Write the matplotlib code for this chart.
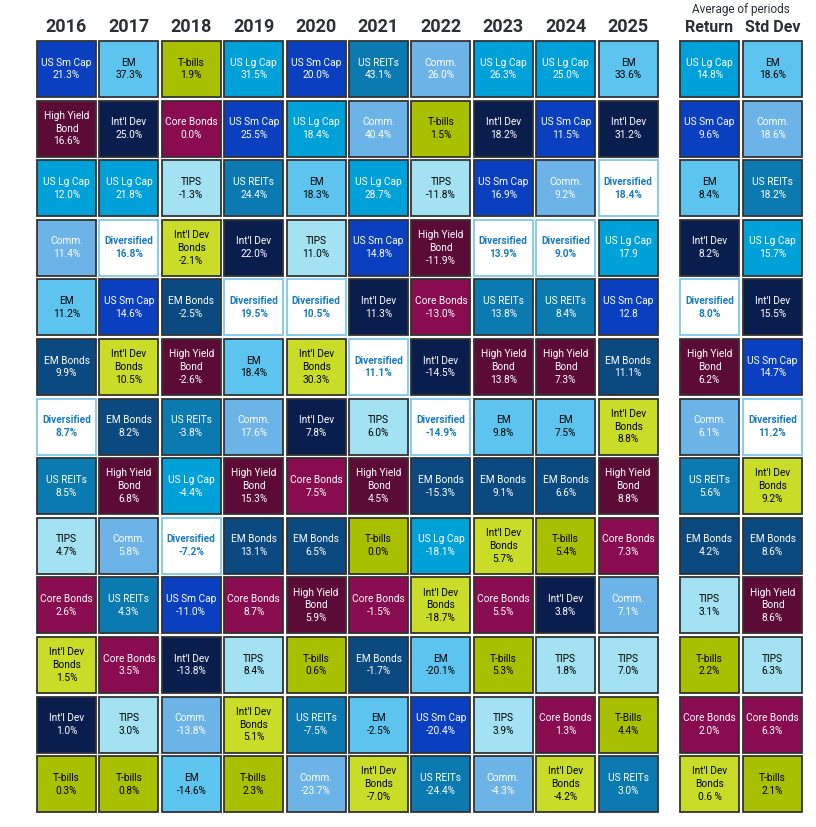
import matplotlib.pyplot as plt
from matplotlib.patches import Rectangle

plt.rcParams["font.family"] = ["Roboto", "DejaVu Sans"]

years = ["2016", "2017", "2018", "2019", "2020", "2021", "2022", "2023", "2024", "2025"]

SM, LG, EM, COM, TIPS, HY, CB = "US Sm Cap", "US Lg Cap", "EM", "Comm.", "TIPS", "High Yield\nBond", "Core Bonds"
ID, EMB, RE, IDB, TB, DIV = "Int'l Dev", "EM Bonds", "US REITs", "Int'l Dev\nBonds", "T-bills", "Diversified"

names = [
    [SM, HY, LG, COM, EM, EMB, DIV, RE, TIPS, CB, IDB, ID, TB],
    [EM, ID, LG, DIV, SM, IDB, EMB, HY, COM, RE, CB, TIPS, TB],
    [TB, CB, TIPS, IDB, EMB, HY, RE, LG, DIV, SM, ID, COM, EM],
    [LG, SM, RE, ID, DIV, EM, COM, HY, EMB, CB, TIPS, IDB, TB],
    [SM, LG, EM, TIPS, DIV, IDB, ID, CB, EMB, HY, TB, RE, COM],
    [RE, COM, LG, SM, ID, DIV, TIPS, HY, TB, CB, EMB, EM, IDB],
    [COM, TB, TIPS, HY, CB, ID, DIV, EMB, LG, IDB, EM, SM, RE],
    [LG, ID, SM, DIV, RE, HY, EM, EMB, IDB, CB, TB, TIPS, COM],
    [LG, SM, COM, DIV, RE, HY, EM, EMB, TB, ID, TIPS, CB, IDB],
    [EM, ID, DIV, LG, SM, EMB, IDB, HY, CB, COM, TIPS, "T-Bills", RE],
    [LG, SM, EM, ID, DIV, HY, COM, RE, EMB, TIPS, TB, CB, IDB],
    [EM, COM, RE, LG, ID, SM, DIV, IDB, EMB, HY, TIPS, CB, TB],
]

values = [
    ["21.3%", "16.6%", "12.0%", "11.4%", "11.2%", "9.9%", "8.7%", "8.5%", "4.7%", "2.6%", "1.5%", "1.0%", "0.3%"],
    ["37.3%", "25.0%", "21.8%", "16.8%", "14.6%", "10.5%", "8.2%", "6.8%", "5.8%", "4.3%", "3.5%", "3.0%", "0.8%"],
    ["1.9%", "0.0%", "-1.3%", "-2.1%", "-2.5%", "-2.6%", "-3.8%", "-4.4%", "-7.2%", "-11.0%", "-13.8%", "-13.8%", "-14.6%"],
    ["31.5%", "25.5%", "24.4%", "22.0%", "19.5%", "18.4%", "17.6%", "15.3%", "13.1%", "8.7%", "8.4%", "5.1%", "2.3%"],
    ["20.0%", "18.4%", "18.3%", "11.0%", "10.5%", "30.3%", "7.8%", "7.5%", "6.5%", "5.9%", "0.6%", "-7.5%", "-23.7%"],
    ["43.1%", "40.4%", "28.7%", "14.8%", "11.3%", "11.1%", "6.0%", "4.5%", "0.0%", "-1.5%", "-1.7%", "-2.5%", "-7.0%"],
    ["26.0%", "1.5%", "-11.8%", "-11.9%", "-13.0%", "-14.5%", "-14.9%", "-15.3%", "-18.1%", "-18.7%", "-20.1%", "-20.4%", "-24.4%"],
    ["26.3%", "18.2%", "16.9%", "13.9%", "13.8%", "13.8%", "9.8%", "9.1%", "5.7%", "5.5%", "5.3%", "3.9%", "-4.3%"],
    ["25.0%", "11.5%", "9.2%", "9.0%", "8.4%", "7.3%", "7.5%", "6.6%", "5.4%", "3.8%", "1.8%", "1.3%", "-4.2%"],
    ["33.6%", "31.2%", "18.4%", "17.9", "12.8", "11.1%", "8.8%", "8.8%", "7.3%", "7.1%", "7.0%", "4.4%", "3.0%"],
    ["14.8%", "9.6%", "8.4%", "8.2%", "8.0%", "6.2%", "6.1%", "5.6%", "4.2%", "3.1%", "2.2%", "2.0%", "0.6 %"],
    ["18.6%", "18.6%", "18.2%", "15.7%", "15.5%", "14.7%", "11.2%", "9.2%", "8.6%", "8.6%", "6.3%", "6.3%", "2.1%"],
]

# (fill, text colour)
styles = {
    SM: ("#0a40c0", "white"), LG: ("#00a0d8", "white"), EM: ("#5cc4ee", "black"),
    COM: ("#6cb4e8", "white"), TIPS: ("#a2e2f2", "black"), HY: ("#5c0a36", "white"),
    CB: ("#8a0c50", "white"), ID: ("#0a1e4e", "white"), EMB: ("#0a4a80", "white"),
    RE: ("#0a7ab0", "white"), IDB: ("#c8dc28", "black"), TB: ("#a8c000", "black"),
    "T-Bills": ("#a8c000", "black"), DIV: ("white", "#1a7cc0"),
}

fig = plt.figure(figsize=(8.16, 8.27), dpi=100)
ax = fig.add_axes([0, 0, 1, 1])
ax.set_xlim(0, 816)
ax.set_ylim(827, 0)
ax.axis("off")

col_x = [37 + 62.4 * i for i in range(10)] + [680, 743]
w, h = 59, 56
for c, x in enumerate(col_x):
    for r in range(13):
        y = 41 + 59.6 * r
        nm = names[c][r]
        fc, tc = styles[nm]
        ec = "#7cc8ec" if nm == DIV else "#333333"
        ax.add_patch(Rectangle((x, y), w, h, facecolor=fc, edgecolor=ec, lw=1.3))
        ax.text(x + w / 2, y + h / 2, nm + "\n" + values[c][r], ha="center", va="center",
                color=tc, fontsize=7.3, linespacing=1.35,
                fontweight="bold" if nm == DIV else "normal")

for i, yr in enumerate(years):
    ax.text(col_x[i] + w / 2, 27, yr, ha="center", va="center", fontsize=13,
            fontweight="bold", color="#2b2f36")
ax.text(col_x[10] + w / 2, 27, "Return", ha="center", va="center", fontsize=11.5,
        fontweight="bold", color="#2b2f36")
ax.text(col_x[11] + w / 2, 27, "Std Dev", ha="center", va="center", fontsize=11.5,
        fontweight="bold", color="#2b2f36")
ax.text(741, 10, "Average of periods", ha="center", va="center", fontsize=8.5, color="#2b2f36")

fig.savefig("out.png", dpi=100)
